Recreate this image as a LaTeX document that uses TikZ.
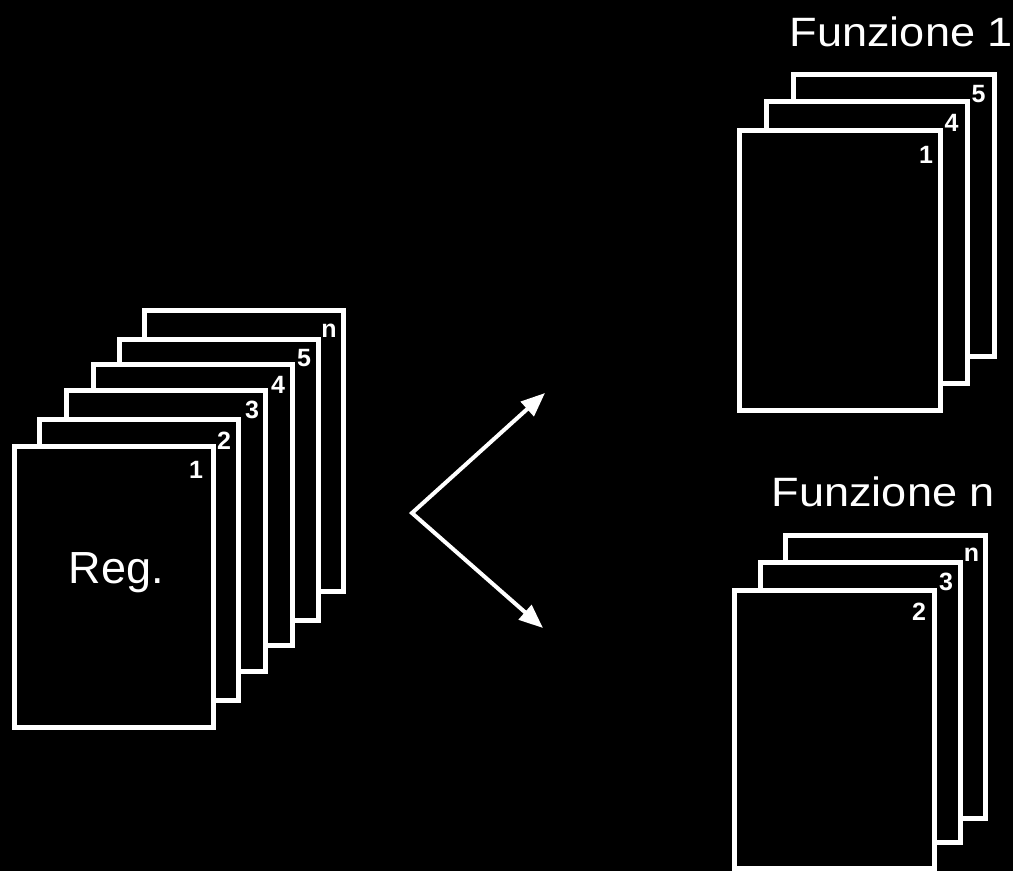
\documentclass[tikz,border=0pt]{standalone}
\usepackage{fontspec}
\setmainfont{Liberation Sans}
\usetikzlibrary{arrows.meta,calc}
\begin{document}
\begin{tikzpicture}[x=1pt,y=-1pt,
  sheet/.style={draw=white, line width=5pt, fill=black, inner sep=0pt, outer sep=0pt,
    minimum width=199pt, minimum height=281pt, anchor=north west},
  num/.style={text=white, font=\bfseries\fontsize{25}{25}\selectfont, inner sep=0pt, anchor=center},
  ttl/.style={text=white, font=\fontsize{41}{41}\selectfont, inner sep=0pt, anchor=base west},
  arr/.style={draw=white, line width=4pt, line join=miter,
    {Triangle[length=24pt,width=19pt]}-{Triangle[length=24pt,width=19pt]}}]
\useasboundingbox (0,0) rectangle (1013,871);
\fill[black] (0,0) rectangle (1013,871);
\clip (0,0) rectangle (1013,871);

% left stack (back to front)
\node[sheet] (ln) at (144.5,310.5) {};
\node[sheet] (l5) at (119.5,339.5) {};
\node[sheet] (l4) at (93.5,364.5) {};
\node[sheet] (l3) at (66.5,390.5) {};
\node[sheet] (l2) at (39.5,419.5) {};
\node[sheet] (l1) at (14.5,446.5) {};
\node[num] (lnn) at ($(ln.north east)+(-14.5,20)$) {n};
\node[num] (l5n) at ($(l5.north east)+(-14.5,19)$) {5};
\node[num] (l4n) at ($(l4.north east)+(-14.5,20)$) {4};
\node[num] (l3n) at ($(l3.north east)+(-13.5,19)$) {3};
\node[num] (l2n) at ($(l2.north east)+(-14.5,21)$) {2};
\node[num] (l1n) at ($(l1.north east)+(-17.5,23)$) {1};
\node[text=white, font=\fontsize{45}{45}\selectfont, inner sep=0pt, anchor=base] (reg) at (116.5,583) {Reg.};

% top right stack
\node[sheet, minimum width=201pt, minimum height=282pt] (a5) at (793.5,74.5) {};
\node[sheet, minimum width=201pt, minimum height=282pt] (a4) at (766.5,101.5) {};
\node[sheet, minimum width=201pt, minimum height=280pt] (a1) at (739.5,130.5) {};
\node[num] (a5n) at ($(a5.north east)+(-16,20)$) {5};
\node[num] (a4n) at ($(a4.north east)+(-16,21.5)$) {4};
\node[num] (a1n) at ($(a1.north east)+(-14.5,24)$) {1};
\node[ttl] (f1) at (789.5,46) {\scalebox{1.1}[1]{Funzione 1}};

% bottom right stack
\node[sheet, minimum width=200pt, minimum height=283pt] (bn) at (785.5,535.5) {};
\node[sheet, minimum width=200pt, minimum height=280pt] (b3) at (760.5,562.5) {};
\node[sheet, minimum width=200pt, minimum height=278pt] (b2) at (734.5,590.5) {};
\node[num] (bnn) at ($(bn.north east)+(-14,19.5)$) {n};
\node[num] (b3n) at ($(b3.north east)+(-14.5,19.5)$) {3};
\node[num] (b2n) at ($(b2.north east)+(-15.5,21.5)$) {2};
\node[ttl] (fn) at (771.5,506) {\scalebox{1.1}[1]{Funzione n}};

% arrows
\coordinate (v) at (412,513);
\coordinate (t1) at (545,393);
\coordinate (t2) at (543,628);
\draw[arr] (t1) -- (v) -- (t2);
\end{tikzpicture}
\end{document}
